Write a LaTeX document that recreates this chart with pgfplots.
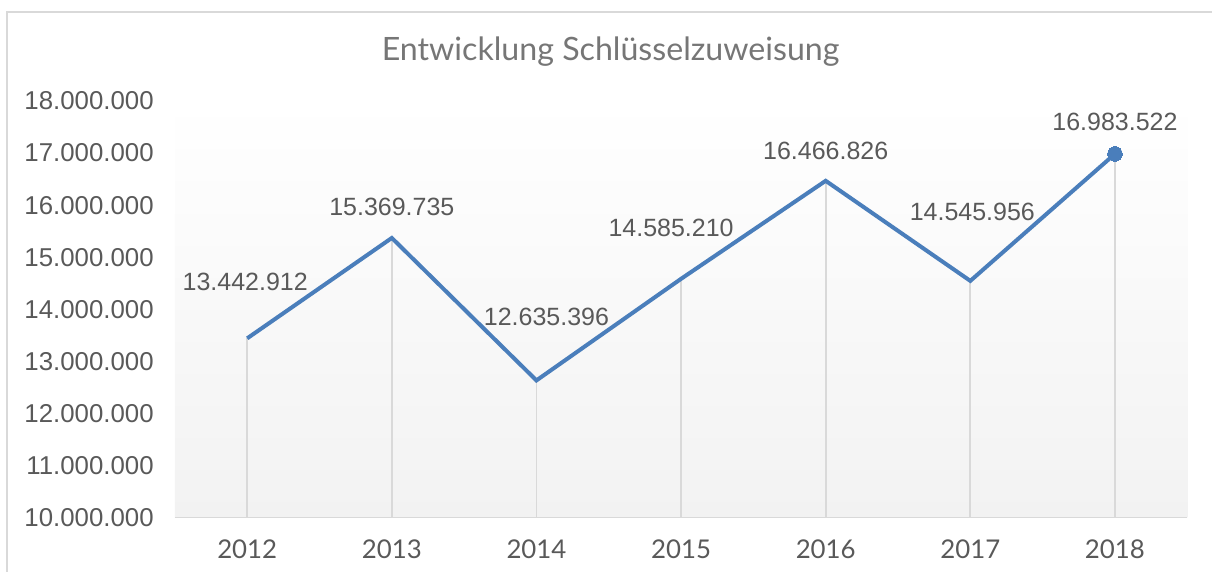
\documentclass[border=0pt]{standalone}
\usepackage{pgfplots}
\pgfplotsset{compat=1.18}
\usepackage{pgfplotstable}
\usepackage{fontspec}
\setmainfont{Liberation Sans}
\newfontfamily\lato{Lato}
\definecolor{linec}{HTML}{4A7EBB}
\definecolor{gridc}{HTML}{D9D9D9}
\definecolor{txt}{HTML}{595959}
\definecolor{ttl}{HTML}{767676}
\definecolor{bgb}{HTML}{F2F2F2}
\pgfplotstableread{
x y lab dx dy
0 13442912 13.442.912 -1.2 33.9
1 15369735 15.369.735 0 18.6
2 12635396 12.635.396 6 38.2
3 14585210 14.585.210 -6 30.6
4 16466826 16.466.826 0 18
5 14545956 14.545.956 1.2 41.4
6 16983522 16.983.522 0 19.2
}\data
\begin{document}
\begin{tikzpicture}
\begin{axis}[name=ax, at={(0,0)}, anchor=south west,
  scale only axis, width=607.8pt, height=250.2pt,
  xmin=-0.5, xmax=6.5, ymin=10000000, ymax=18000000,
  axis x line=bottom, axis y line=left,
  axis line style={-},
  x axis line style={draw=gridc, line width=0.9pt},
  y axis line style={draw=none},
  major tick style={draw=none},
  xtick={0,...,6},
  xticklabels={2012,2013,2014,2015,2016,2017,2018},
  ytick={10000000,11000000,12000000,13000000,14000000,15000000,16000000,17000000,18000000},
  yticklabels={10.000.000,11.000.000,12.000.000,13.000.000,14.000.000,15.000.000,16.000.000,17.000.000,18.000.000},
  scaled y ticks=false,
  yticklabel style={font=\fontsize{15.5pt}{17pt}\selectfont, text=txt, anchor=east, inner sep=0pt, xshift=-10.4pt},
  xticklabel style={font=\lato\fontsize{15.5pt}{17pt}\selectfont, text=txt, anchor=base, inner sep=0pt, yshift=-22.6pt},
  axis background/.style={top color=white, bottom color=bgb},
]
\addplot[ycomb, draw=gridc, line width=1.1pt, no marks] table[x=x,y=y]{\data};
\addplot[draw=linec, line width=2.4pt, mark=*, mark indices={7}, mark size=4.4pt, mark options={fill=linec, draw=linec, line width=0pt}] table[x=x,y=y]{\data};
\addplot[draw=none, mark=none,
  point meta=explicit symbolic,
  visualization depends on={\thisrow{dx}\as\dx},
  visualization depends on={\thisrow{dy}\as\dy},
  nodes near coords,
  nodes near coords style={font=\fontsize{15pt}{17pt}\selectfont, text=txt, anchor=center, xshift=\dx pt, yshift=\dy pt, inner sep=0pt},
] table[x=x,y=y,meta=lab]{\data};
\end{axis}
\node[font=\lato\fontsize{19.3pt}{22pt}\selectfont, text=ttl, anchor=center] at ([shift={(261.6pt,279.6pt)}]ax.south west) {Entwicklung Schlüsselzuweisung};
\draw[gridc, line width=0.9pt] ([shift={(-100.8pt,-32.4pt)}]ax.south west) -- ([shift={(-100.8pt,303.6pt)}]ax.south west) -- ([shift={(622.8pt,303.6pt)}]ax.south west);
\path[use as bounding box] ([shift={(-105pt,-32.4pt)}]ax.south west) rectangle ([shift={(622.8pt,310.8pt)}]ax.south west);
\end{tikzpicture}
\end{document}
